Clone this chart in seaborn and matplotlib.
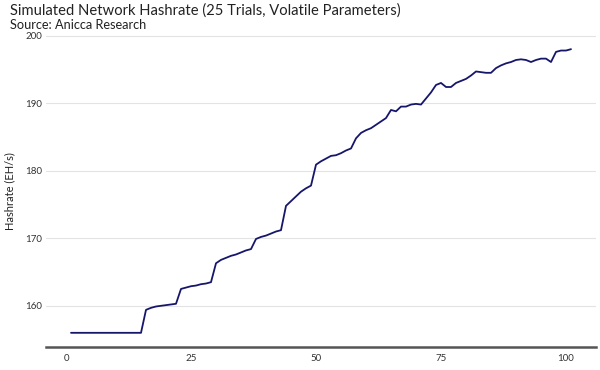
import numpy as np
import pandas as pd
import matplotlib
matplotlib.use('Agg')
import matplotlib.pyplot as plt
import seaborn as sns

# Data
steps = list(range(1, 102))
hashrate = [
    156.0, 156.0, 156.0, 156.0, 156.0, 156.0, 156.0, 156.0, 156.0, 156.0,
    156.0, 156.0, 156.0, 156.0, 156.0, 159.4, 159.7, 159.9, 160.0, 160.1,
    160.2, 160.3, 162.5, 162.7, 162.9, 163.0, 163.2, 163.3, 163.5, 166.3,
    166.8, 167.1, 167.4, 167.6, 167.9, 168.2, 168.4, 169.9, 170.2, 170.4,
    170.7, 171.0, 171.2, 174.8, 175.5, 176.2, 176.9, 177.4, 177.8, 180.9,
    181.4, 181.8, 182.2, 182.3, 182.6, 183.0, 183.3, 184.8, 185.6, 186.0,
    186.3, 186.8, 187.3, 187.8, 189.0, 188.8, 189.5, 189.5, 189.8, 189.9,
    189.8, 190.7, 191.6, 192.7, 193.0, 192.4, 192.4, 193.0, 193.3, 193.6,
    194.1, 194.7, 194.6, 194.5, 194.5, 195.2, 195.6, 195.9, 196.1, 196.4,
    196.5, 196.4, 196.1, 196.4, 196.6, 196.6, 196.1, 197.6, 197.8, 197.8,
    198.0,
]
x_ticks = [0, 25, 50, 75, 100]
y_ticks = [160, 170, 180, 190, 200]

df = pd.DataFrame({'Step': steps, 'Hashrate': hashrate})

sns.set_style('white')
plt.rcParams['font.family'] = ['Lato', 'DejaVu Sans']

fig = plt.figure(figsize=(6, 3.7), dpi=100)
ax = fig.add_axes([46 / 600, 1 - 347 / 370, 550 / 600, 312 / 370])

sns.lineplot(data=df, x='Step', y='Hashrate', color='#16166b', linewidth=1.3, ax=ax)

ax.set_xticks(x_ticks)
ax.set_yticks(y_ticks)
ax.tick_params(axis='both', labelsize=7, length=0, colors='#333333', pad=5)
ax.tick_params(axis='y', pad=3)
ax.grid(axis='y', color='#e3e3e3', linewidth=0.8)
ax.grid(axis='x', visible=False)
ax.set_axisbelow(True)

for side in ['left', 'right', 'top']:
    ax.spines[side].set_visible(False)
ax.spines['bottom'].set_color('#555555')
ax.spines['bottom'].set_linewidth(1.8)

ax.set_xlabel('')
ax.set_ylabel('Hashrate (EH/s)', fontsize=8, color='#222222', labelpad=7)

fig.text(10 / 600, 1 - 11 / 370, 'Simulated Network Hashrate (25 Trials, Volatile Parameters)',
         fontsize=10.6, color='#222222', va='center', ha='left')
fig.text(10 / 600, 1 - 25 / 370, 'Source: Anicca Research',
         fontsize=9.2, color='#222222', va='center', ha='left')

fig.savefig('out.png', dpi=100)
